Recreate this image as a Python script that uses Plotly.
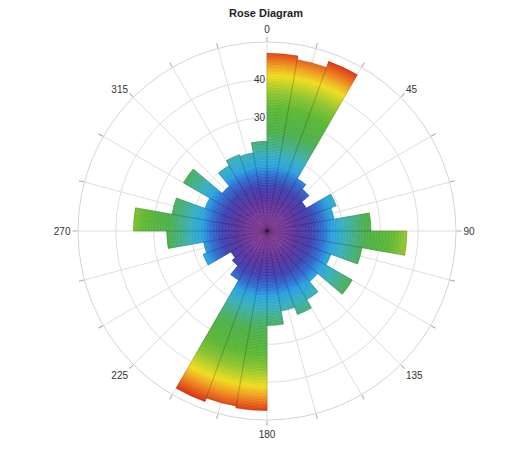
import numpy as np
import plotly.graph_objects as go
from plotly.colors import sample_colorscale

# ---- data ----
bin_starts = list(range(0, 360, 10))          # compass direction of each 10° bin
counts = [47.0, 46.0, 47.7, 16.0, 14.5, 12.0, 19.5, 18.0, 27.5,   # 0-90
          37.0, 25.5, 18.0, 26.0, 17.5, 21.0, 23.5, 21.5, 25.0,   # 90-180
          47.5, 47.0, 48.0, 15.0, 12.0, 11.0, 18.0, 17.0, 26.5,   # 180-270
          35.3, 25.5, 17.5, 25.5, 15.5, 20.0, 21.5, 21.0, 23.7]   # 270-360
angle_ticks = list(range(0, 360, 15))
angle_labels = [str(a) if a % 45 == 0 else "" for a in angle_ticks]
radial_ticks = [10, 20, 30, 40]
radial_labels = ["10", "20", "30", "40"]
title_text = "Rose Diagram"

# colour ramp by radius (purple centre -> blue -> cyan -> green -> yellow -> red)
ramp = [
    [0.00, "#9a48a2"], [0.08, "#823ea0"], [0.17, "#5c349e"], [0.25, "#4042b2"],
    [0.31, "#2f6ed2"], [0.36, "#2aa2e0"], [0.42, "#38b0c0"], [0.48, "#44b084"],
    [0.55, "#4cb04a"], [0.68, "#5cb832"], [0.76, "#8cc430"], [0.82, "#c8d422"],
    [0.86, "#f0dc20"], [0.91, "#f0a020"], [0.96, "#e86018"], [1.00, "#d83010"],
]
cmax = 48.0
step = 0.4

seg_theta, seg_base, seg_r, seg_val = [], [], [], []
for s, v in zip(bin_starts, counts):
    edges = np.arange(0.0, v, step)
    for e in edges:
        top = min(e + step, v)
        seg_theta.append(s + 5)
        seg_base.append(e)
        seg_r.append(top - e)
        seg_val.append(min(((e + top) / 2) / cmax, 1.0))
seg_colors = sample_colorscale(ramp, seg_val)

fig = go.Figure()
fig.add_trace(go.Barpolar(
    theta=seg_theta, r=seg_r, base=seg_base, width=[10] * len(seg_theta),
    marker=dict(color=seg_colors, line=dict(color=seg_colors, width=0.6)),
    hoverinfo="skip", showlegend=False,
))
fig.add_trace(go.Barpolar(
    theta=[s + 5 for s in bin_starts], r=counts, width=[10] * len(counts),
    marker=dict(color="rgba(0,0,0,0)", line=dict(color="rgba(30,30,50,0.22)", width=0.6)),
    showlegend=False,
))

# page body has an 8px default margin, so the figure is sized to the visible area
W, H = 511, 443
fig.update_layout(
    width=W, height=H,
    margin=dict(l=70, r=63, t=34, b=31),
    paper_bgcolor="white",
    title=dict(text=title_text, x=258 / W, xanchor="center", y=1 - 5 / H, yanchor="middle",
               font=dict(family="Liberation Sans, Arial", size=11, color="#222", weight="bold")),
    font=dict(family="Liberation Sans, Arial", size=10, color="#333"),
    polar=dict(
        bgcolor="white",
        bargap=0,
        angularaxis=dict(rotation=90, direction="clockwise",
                         tickmode="array", tickvals=angle_ticks, ticktext=angle_labels,
                         ticks="outside", ticklen=5, tickcolor="#aaa",
                         showline=True, linecolor="#d4d4d4", linewidth=1,
                         gridcolor="#dedede", gridwidth=1,
                         tickfont=dict(size=10, color="#333")),
        radialaxis=dict(range=[0, 50], tickmode="array", tickvals=radial_ticks, ticktext=radial_labels,
                        angle=90, side="counterclockwise", tickangle=90, showline=False, ticks="",
                        gridcolor="#dedede", gridwidth=1, layer="below traces",
                        tickfont=dict(size=10, color="#333")),
    ),
)
fig.write_html("out.html")
